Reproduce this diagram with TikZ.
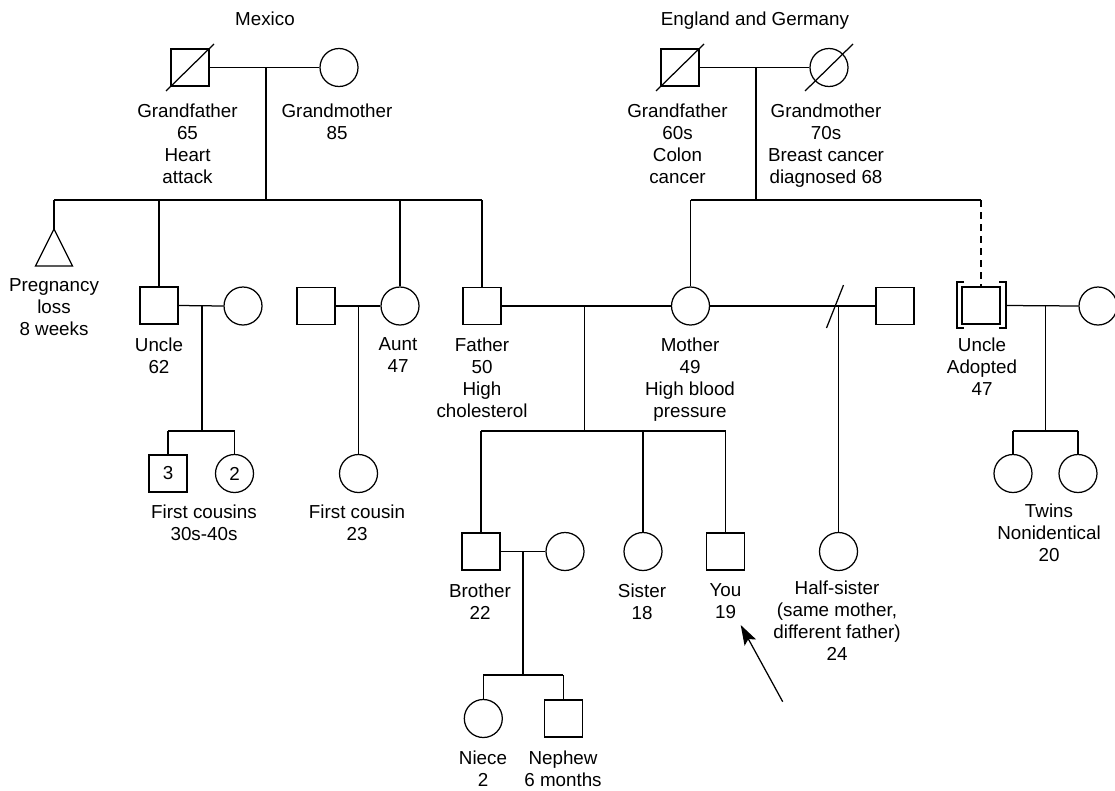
\documentclass[tikz,border=0pt]{standalone}
\usepackage{fontspec}
\setmainfont{Liberation Sans}
\usetikzlibrary{arrows.meta}
\newcommand\lblfont{\fontsize{18.8}{22}\selectfont}
\begin{document}
\begin{tikzpicture}[x=1pt,y=-1pt,line width=1.25pt,
  sq/.style={draw,minimum width=38pt,minimum height=37pt,inner sep=0pt,font=\lblfont},
  ci/.style={draw,circle,minimum size=38pt,inner sep=0pt,font=\lblfont},
  lbl/.style={align=center,anchor=north,inner sep=0pt,font=\lblfont},
  adopt/.style={dash pattern=on 7pt off 5pt}]
\fill[white] (0,0) rectangle (1115,790);
\useasboundingbox (0,0) rectangle (1115,790);

% ---- people ----
\node[sq] (gf1) at (190,67.5) {};
\node[ci] (gm1) at (339,67.5) {};
\node[sq] (gf2) at (680,67.5) {};
\node[ci] (gm2) at (829,67.5) {};
\coordinate (loss) at (54,229);
\node[sq] (un1) at (159,305.5) {};
\node[ci] (unw) at (243,306) {};
\node[sq] (aunh) at (316,306) {};
\node[ci] (aunt) at (400,306) {};
\node[sq] (fa) at (482,306) {};
\node[ci] (mo) at (690.5,306) {};
\node[sq] (moh) at (895,306) {};
\node[sq] (un2) at (981,305.5) {};
\node[ci] (un2w) at (1098,306) {};
\node[sq] (c3) at (168,473.5) {3};
\node[ci] (c2) at (234.5,473.5) {2};
\node[ci] (fc) at (358.5,473.5) {};
\node[ci] (t1) at (1013,473.5) {};
\node[ci] (t2) at (1078,473.5) {};
\node[sq] (br) at (481,551.5) {};
\node[ci] (brw) at (565,551.5) {};
\node[ci] (si) at (643,551.5) {};
\node[sq] (you) at (725.5,551.5) {};
\node[ci] (hs) at (838.5,551.5) {};
\node[ci] (ni) at (483.3,718.5) {};
\node[sq] (ne) at (563.3,718.5) {};

% pregnancy loss triangle
\draw (loss) -- ++(18.5,37) -- ++(-37,0) -- cycle;

% deceased slashes
\draw ([shift={(-24,23.5)}]gf1.center) -- ([shift={(24,-23.5)}]gf1.center);
\draw ([shift={(-24,23.5)}]gf2.center) -- ([shift={(24,-23.5)}]gf2.center);
\draw ([shift={(-24,23.5)}]gm2.center) -- ([shift={(24,-23.5)}]gm2.center);

% adoption brackets
\draw ([shift={(-17,-23.5)}]un2.center) -- ++(-7,0) -- ++(0,46) -- ++(7,0);
\draw ([shift={(18,-23.5)}]un2.center) -- ++(7,0) -- ++(0,46) -- ++(-7,0);
\coordinate (brR) at ([xshift=25pt]un2.center);

% ---- junctions ----
\coordinate (m1) at (266,67.5);   \coordinate (s1) at (266,200);
\coordinate (m2) at (756,67.5);   \coordinate (s2) at (756,200);
\coordinate (m3) at (202,306);    \coordinate (s3) at (202,431);
\coordinate (m4) at (358.5,306);
\coordinate (m5) at (584.3,306);  \coordinate (s5) at (584.3,431);
\coordinate (m6) at (523,551.5);  \coordinate (s6) at (523,675);
\coordinate (div) at (838.5,306); \coordinate (cut) at (835,306.5);
\coordinate (m7) at (1045.5,306); \coordinate (s7) at (1045.5,431);

% ---- Mexico side ----
\draw (gf1.east) -- (gm1.west);
\draw (m1) -- (s1);
\draw (loss |- s1) -- (fa |- s1);
\draw (loss |- s1) -- (loss);
\draw (un1 |- s1) -- (un1.north);
\draw (aunt |- s1) -- (aunt.north);
\draw (fa |- s1) -- (fa.north);
\draw (un1.east) -- (unw.west);
\draw (m3) -- (s3);
\draw (c3 |- s3) -- (c2 |- s3);
\draw (c3 |- s3) -- (c3.north);
\draw (c2 |- s3) -- (c2.north);
\draw (aunh.east) -- (aunt.west);
\draw (m4) -- (fc.north);

% ---- England and Germany side ----
\draw (gf2.east) -- (gm2.west);
\draw (m2) -- (s2);
\draw (mo |- s2) -- (un2 |- s2);
\draw (mo |- s2) -- (mo.north);
\draw[adopt] (un2 |- s2) -- (un2.north);
\draw (brR) -- (un2w.west);
\draw (m7) -- (s7);
\draw (t1 |- s7) -- (t2 |- s7);
\draw (t1 |- s7) -- (t1.north);
\draw (t2 |- s7) -- (t2.north);

% ---- parents and children ----
\draw (fa.east) -- (mo.west);
\draw (m5) -- (s5);
\draw (br |- s5) -- (you |- s5);
\draw (br |- s5) -- (br.north);
\draw (si |- s5) -- (si.north);
\draw (you |- s5) -- (you.north);
\draw (mo.east) -- (moh.west);
\draw ([shift={(-8.5,21.5)}]cut) -- ([shift={(8.5,-21.5)}]cut);
\draw (div) -- (hs.north);
\draw (br.east) -- (brw.west);
\draw (m6) -- (s6);
\draw (ni |- s6) -- (ne |- s6);
\draw (ni |- s6) -- (ni.north);
\draw (ne |- s6) -- (ne.north);

% ---- arrow to "You" ----
\coordinate (atail) at (782.7,701.7);
\coordinate (atip) at (740.7,625);
\draw[-{Stealth[length=20pt,width=13pt,inset=4pt]}] (atail) -- (atip);

% ---- labels ----
\node[lbl] (lmex) at (265,11) {Mexico};
\node[lbl] (leg) at (755,11) {England and Germany};
\node[lbl] (lgf1) at (187.5,103) {Grandfather\\65\\Heart\\attack};
\node[lbl] (lgm1) at (337,103) {Grandmother\\85};
\node[lbl] (lgf2) at (677.5,103) {Grandfather\\60s\\Colon\\cancer};
\node[lbl] (lgm2) at (826,103) {Grandmother\\70s\\Breast cancer\\diagnosed 68};
\node[lbl] (lloss) at (54,278) {Pregnancy\\loss\\8 weeks};
\node[lbl] (lun1) at (159,337) {Uncle\\62};
\node[lbl] (launt) at (398,337) {Aunt\\47};
\node[lbl] (lfa) at (482,337) {Father\\50\\High\\cholesterol};
\node[lbl] (lmo) at (690,337) {Mother\\49\\High blood\\pressure};
\node[lbl] (lun2) at (982,337) {Uncle\\Adopted\\47};
\node[lbl] (lc) at (204,504) {First cousins\\30s-40s};
\node[lbl] (lfc) at (357,504) {First cousin\\23};
\node[lbl] (ltw) at (1049,503) {Twins\\Nonidentical\\20};
\node[lbl] (lbr) at (480,583) {Brother\\22};
\node[lbl] (lsi) at (642,583) {Sister\\18};
\node[lbl] (lyou) at (725.5,583) {You\\19};
\node[lbl] (lhs) at (837,580) {Half-sister\\(same mother,\\different father)\\24};
\node[lbl] (lni) at (483,750) {Niece\\2};
\node[lbl] (lne) at (563,750) {Nephew\\6 months};
\end{tikzpicture}
\end{document}
